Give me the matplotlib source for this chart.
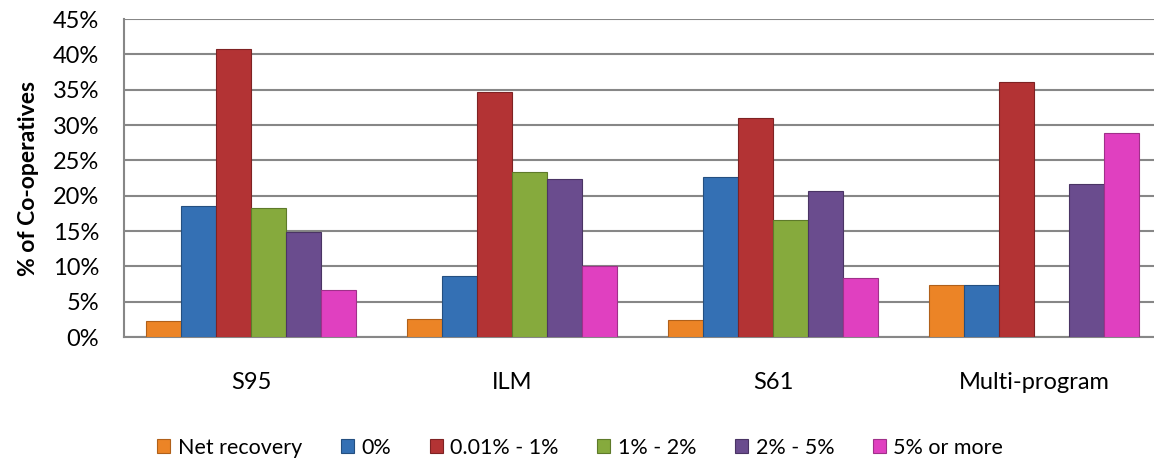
import numpy as np
import matplotlib
matplotlib.use("Agg")
import matplotlib.pyplot as plt
from matplotlib.ticker import PercentFormatter

plt.rcParams["font.family"] = ["Lato", "DejaVu Sans"]

programs = ["S95", "ILM", "S61", "Multi-program"]
series_names = ["Net recovery", "0%", "0.01% - 1%", "1% - 2%", "2% - 5%", "5% or more"]
net_recovery = [2.3, 2.6, 2.4, 7.4]
zero_pct = [18.5, 8.6, 22.7, 7.4]
pct_001_1 = [40.8, 34.6, 31.0, 36.1]
pct_1_2 = [18.2, 23.3, 16.5, 0.0]
pct_2_5 = [14.8, 22.4, 20.7, 21.6]
pct_5_more = [6.6, 10.0, 8.4, 28.9]

series = [net_recovery, zero_pct, pct_001_1, pct_1_2, pct_2_5, pct_5_more]
colors = ["#EC8426", "#3470B4", "#B33334", "#86AA3D", "#6A4C8E", "#E040C0"]
edges = ["#B0601A", "#244F80", "#7E2223", "#5E7A2A", "#4A3464", "#A0308A"]

fig = plt.figure(figsize=(11.54, 4.61), dpi=100)
ax = fig.add_axes([124 / 1154, 124 / 461, 1 - 124 / 1154, 318 / 461])

x = np.arange(len(programs))
w = 0.134
for i, (vals, c, ec) in enumerate(zip(series, colors, edges)):
    ax.bar(x + (i - 2.5) * w, vals, w, color=c, edgecolor=ec, linewidth=0.8,
           label=series_names[i], zorder=3)

ax.set_xlim(-0.487, 3.46)
ax.set_ylim(0, 45)
ax.set_yticks(np.arange(0, 46, 5))
ax.yaxis.set_major_formatter(PercentFormatter(decimals=0))
ax.set_xticks(x)
ax.set_xticklabels(programs)
ax.tick_params(axis="both", length=0, labelsize=17, colors="black")
ax.tick_params(axis="y", pad=18)
ax.tick_params(axis="x", pad=25)
ax.grid(axis="y", color="#878787", linewidth=1.5, zorder=0)
for s in ["top", "right"]:
    ax.spines[s].set_visible(False)
for s in ["left", "bottom"]:
    ax.spines[s].set_color("#878787")
    ax.spines[s].set_linewidth(1.5)
ax.set_ylabel("% of Co-operatives", fontsize=16.5, fontweight="bold", labelpad=10)

ax.legend(loc="center", bbox_to_anchor=(0.443, -0.348), ncol=6, frameon=False,
          fontsize=15.5, handlelength=0.6, handleheight=0.6, handletextpad=0.35,
          columnspacing=1.8, borderpad=0)

fig.savefig("out.png", dpi=100)
